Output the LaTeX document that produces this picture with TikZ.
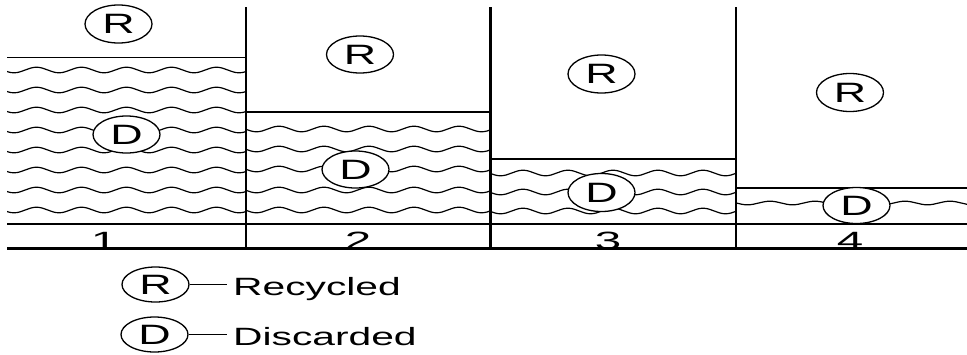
\documentclass[tikz,border=0pt]{standalone}
\usepackage{fontspec}
\setmainfont{Liberation Sans}
\usepackage{graphicx}
\usetikzlibrary{shapes.geometric}

\tikzset{
  divider/.style={line width=2.8pt},
  rule/.style={line width=1.3pt},
  baserule/.style={line width=2.3pt},
  wave/.style={line width=1.2pt, line join=round},
  tag/.style={ellipse, draw, line width=1.3pt, fill=white,
    minimum width=67pt, minimum height=37pt, inner sep=0pt,
    font=\fontsize{28}{28}\selectfont},
  legendtag/.style={tag, minimum height=35pt},
  legendtext/.style={anchor=base west, inner sep=0pt,
    font=\fontsize{25}{25}\selectfont},
  num/.style={anchor=base, inner sep=0pt, font=\fontsize{25}{25}\selectfont},
}

% horizontally stretched text
\newcommand{\wide}[2][1.6]{\scalebox{#1}[1]{#2}}
% wavy line clipped to x=#1..#2 at height #3, starting from a crest at x=#4,
% amplitude #5, period 45
\newcommand{\wavy}[5]{%
  \begin{scope}
    \clip (#1,0) rectangle (#2,354);
    \draw[wave] (#4,#3-#5)
      \foreach \k in {1,...,6} {
        cos ++(11.25,#5) sin ++(11.25,#5)
        cos ++(11.25,-#5) sin ++(11.25,-#5)
      };
  \end{scope}}

\begin{document}
\begin{tikzpicture}[x=1pt, y=-1pt]
\useasboundingbox (0,0) rectangle (967,354);

% panel 1
\draw[rule] (7,57.5) -- (246,57.5);
\foreach \yy in {70,90,...,210} {\wavy{7}{246}{\yy}{-8.5}{2.8}}
% panel 2
\draw[rule] (246,112) -- (490.5,112);
\foreach \yy in {129,149,169,190,210} {\wavy{246}{490.5}{\yy}{234}{2.8}}
% panel 3
\draw[rule] (490.5,159) -- (736,159);
\foreach \yy in {173,192,211} {\wavy{490.5}{736}{\yy}{478}{2.8}}
% panel 4
\draw[rule] (736,188) -- (967,188);
\wavy{736}{967}{203}{725}{1.8}

% panel numbers
\node[num] (n1) at (104,249) {\wide[1.9]{1}};
\node[num] (n2) at (358,249) {\wide[1.9]{2}};
\node[num] (n3) at (608,249) {\wide[1.9]{3}};
\node[num] (n4) at (850,249) {\wide[1.9]{4}};

% base rules
\draw[rule] (7,224) -- (967,224);
\draw[baserule] (7,248.5) -- (967,248.5);

% dividers
\foreach \xx in {246,490.5,736} {\draw[divider] (\xx,7) -- (\xx,249.5);}

% recycled / discarded tags
\node[tag, minimum height=38pt] (r1) at (118.5,24) {\wide{R}};
\node[tag] (d1) at (126.5,134.5) {\wide{D}};
\node[tag] (r2) at (360,54.5) {\wide{R}};
\node[tag] (d2) at (355.5,169.5) {\wide{D}};
\node[tag, minimum height=38pt] (r3) at (601.5,74) {\wide{R}};
\node[tag, minimum height=38pt] (d3) at (601.5,192.5) {\wide{D}};
\node[tag, minimum height=38pt] (r4) at (850,92.5) {\wide{R}};
\node[tag, minimum height=36pt] (d4) at (856.5,205.5) {\wide{D}};

% legend
\node[legendtag] (lr) at (155.5,284.5) {\wide{R}};
\node[legendtag] (ld) at (154.5,334.5) {\wide{D}};
\node[legendtext] (lrt) at (233,295) {\wide[1.63]{Recycled}};
\node[legendtext] (ldt) at (233,345) {\wide[1.63]{Discarded}};
\draw[rule] (lr.east) -- ([xshift=-6pt]lr.east -| lrt.west);
\draw[rule] (ld.east) -- ([xshift=-6pt]ld.east -| ldt.west);
\end{tikzpicture}
\end{document}
